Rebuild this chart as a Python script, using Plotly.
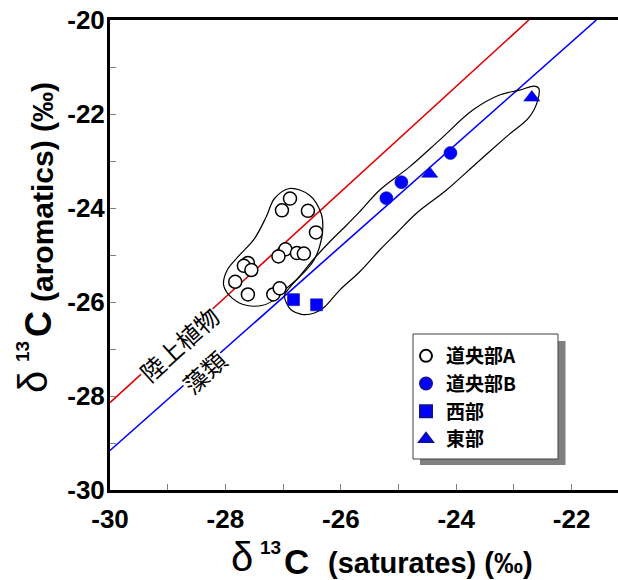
import plotly.graph_objects as go

# ---------------- data ----------------
groupA_x = [-26.88, -27.02, -26.57, -26.43, -26.96, -27.08, -26.76, -26.64, -27.61, -27.68, -27.55, -27.83, -27.61, -27.17, -27.06]
groupA_y = [-23.80, -24.05, -24.06, -24.52, -24.88, -25.03, -24.96, -24.97, -25.17, -25.23, -25.32, -25.57, -25.84, -25.84, -25.71]
groupB_x = [-24.10, -24.95, -25.21]
groupB_y = [-22.83, -23.45, -23.79]
west_x = [-26.82, -26.42]
west_y = [-25.95, -26.06]
east_x = [-22.69, -24.46]
east_y = [-21.65, -23.27]

names = ["道央部A", "道央部B", "西部", "東部"]

# reference lines (end points)
terr_x = [-30.0, -22.74]
terr_y = [-28.14, -20.0]
algae_x = [-30.0, -21.57]
algae_y = [-29.16, -20.0]
line_labels = ["陸上植物", "藻類"]
terr_label_xy = (-28.80, -26.89)
algae_label_xy = (-28.37, -27.48)

# hand-drawn envelopes
envA_x = [-26.889, -26.542, -26.340, -26.312, -26.369, -26.485, -26.716, -26.946, -27.120, -27.352,
          -27.640, -27.872, -28.030, -27.970, -27.756, -27.496, -27.293, -27.149, -26.889]
envA_y = [-23.585, -23.727, -24.117, -24.437, -24.829, -25.148, -25.467, -25.715, -25.928, -26.070,
          -26.070, -25.928, -25.644, -25.325, -25.005, -24.650, -24.190, -23.798, -23.585]
envB_x = [-26.976, -26.941, -26.854, -26.681, -26.456, -26.283, -26.023, -25.676, -25.329, -25.040,
          -24.693, -24.173, -23.653, -23.133, -22.730, -22.586, -22.569, -22.643, -22.903, -23.250,
          -23.712, -24.289, -24.809, -25.329, -25.676, -25.936, -26.166, -26.456, -26.716, -26.924, -26.976]
envB_y = [-25.857, -26.028, -26.177, -26.262, -26.234, -26.106, -25.751, -25.361, -24.899, -24.543,
          -24.117, -23.621, -23.052, -22.486, -22.060, -21.704, -21.455, -21.406, -21.491, -21.597,
          -21.917, -22.556, -23.125, -23.621, -24.083, -24.409, -24.686, -25.069, -25.453, -25.751, -25.857]

x_tick_vals = [-30, -29, -28, -27, -26, -25, -24, -23, -22]
x_tick_text = ["-30", "", "-28", "", "-26", "", "-24", "", "-22"]
y_tick_vals = [-30, -29, -28, -27, -26, -25, -24, -23, -22, -21, -20]
y_tick_text = ["-30", "", "-28", "", "-26", "", "-24", "", "-22", "", "-20"]

# ---------------- figure ----------------
W, H = 618, 580
ML, MR, MT, MB = 110, 0, 20, 90
PW, PH = W - ML - MR, H - MT - MB


def px2paper(px, py):
    return (px - ML) / PW, (H - MB - py) / PH


fig = go.Figure()
BLUE = "#0000FF"
fig.add_trace(go.Scatter(x=terr_x, y=terr_y, mode="lines", line=dict(color="#E00000", width=1.6),
                         showlegend=False, hoverinfo="skip"))
fig.add_trace(go.Scatter(x=algae_x, y=algae_y, mode="lines", line=dict(color=BLUE, width=1.6),
                         showlegend=False, hoverinfo="skip"))
for ex, ey in [(envA_x, envA_y), (envB_x, envB_y)]:
    fig.add_trace(go.Scatter(x=ex, y=ey, mode="lines", line=dict(color="black", width=1.2, shape="spline", smoothing=1.0),
                             showlegend=False, hoverinfo="skip"))

fig.add_trace(go.Scatter(x=groupA_x, y=groupA_y, mode="markers", name=names[0], legendgroup="a",
                         marker=dict(symbol="circle", size=13, color="white", line=dict(color="black", width=1.5))))
fig.add_trace(go.Scatter(x=groupB_x, y=groupB_y, mode="markers", name=names[1], legendgroup="b",
                         marker=dict(symbol="circle", size=13, color=BLUE, line=dict(color="#1010a0", width=0.6))))
fig.add_trace(go.Scatter(x=west_x, y=west_y, mode="markers", name=names[2], legendgroup="c",
                         marker=dict(symbol="square", size=12, color=BLUE, line=dict(color="#1010a0", width=0.6))))
fig.add_trace(go.Scatter(x=east_x, y=east_y, mode="markers", name=names[3], legendgroup="d",
                         marker=dict(symbol="triangle-up", size=14, color=BLUE, line=dict(color="#1010a0", width=0.6))))

TICKFONT = dict(family="Liberation Sans, Arial", size=26, color="black", weight="bold")
fig.update_xaxes(range=[-30, -30 + PW / 57.7], tickmode="array", tickvals=x_tick_vals, ticktext=x_tick_text,
                 ticks="inside", ticklen=6, tickwidth=1, tickcolor="#808080", showline=True, linecolor="black",
                 linewidth=3, mirror=True, showgrid=False, zeroline=False, tickfont=TICKFONT, ticklabelstandoff=4)
fig.update_yaxes(range=[-30, -20], tickmode="array", tickvals=y_tick_vals, ticktext=y_tick_text,
                 ticks="inside", ticklen=6, tickwidth=1, tickcolor="#808080", showline=True, linecolor="black",
                 linewidth=3, mirror=False, showgrid=False, zeroline=False, tickfont=TICKFONT, ticklabelstandoff=-3)

ann = []
# line labels
ann.append(dict(x=terr_label_xy[0], y=terr_label_xy[1], xref="x", yref="y", text=line_labels[0], showarrow=False,
                textangle=-42, font=dict(family="Noto Sans CJK JP", size=24, color="black"), bgcolor="white", borderpad=0))
ann.append(dict(x=algae_label_xy[0], y=algae_label_xy[1], xref="x", yref="y", text=line_labels[1], showarrow=False,
                textangle=-42, font=dict(family="Noto Sans CJK JP", size=24, color="black"), bgcolor="white", borderpad=0))

TF = "Liberation Sans, Arial"
# x-axis title pieces
for txt, cx, cy, size, wt in [("δ", 241.7, 557, 40, "normal"), ("13", 270.5, 547.5, 19, "bold"),
                              ("C", 296.7, 561, 35, "bold"), ("(saturates) (‰)", 430.8, 563, 29, "bold")]:
    xp, yp = px2paper(cx, cy)
    ann.append(dict(x=xp, y=yp, xref="paper", yref="paper", text=txt, showarrow=False, xanchor="center",
                    yanchor="middle", font=dict(family=TF, size=size, color="black", weight=wt)))
# y-axis title pieces
for txt, cx, cy, size, wt in [("δ", 33, 382, 40, "normal"), ("13", 22, 352, 19, "bold"),
                              ("C", 38, 324, 36, "bold"), ("(aromatics) (‰)", 42, 192, 30, "bold")]:
    xp, yp = px2paper(cx, cy)
    ann.append(dict(x=xp, y=yp, xref="paper", yref="paper", text=txt, showarrow=False, xanchor="center",
                    yanchor="middle", textangle=-90, font=dict(family=TF, size=size, color="black", weight=wt)))

# legend box & shadow
bx0, by0 = px2paper(413, 459)
bx1, by1 = px2paper(558, 334)
sx0, sy0 = px2paper(420, 465)
sx1, sy1 = px2paper(565.5, 341)
shapes = [
    dict(type="rect", xref="paper", yref="paper", x0=sx0, y0=sy0, x1=sx1, y1=sy1, fillcolor="#808080",
         line=dict(width=0), layer="above"),
    dict(type="rect", xref="paper", yref="paper", x0=bx0, y0=by0, x1=bx1, y1=by1, fillcolor="white",
         line=dict(color="#404040", width=1), layer="above"),
]

lx, ly = px2paper(406, 337)
fig.update_layout(
    width=W, height=H, margin=dict(l=ML, r=MR, t=MT, b=MB),
    paper_bgcolor="white", plot_bgcolor="white",
    annotations=ann, shapes=shapes,
    legend=dict(x=lx, y=ly, xanchor="left", yanchor="top", bgcolor="rgba(0,0,0,0)", borderwidth=0,
                font=dict(family="Noto Sans CJK JP", size=19, color="black", weight="bold"),
                itemsizing="constant", tracegroupgap=0, itemwidth=30),
    showlegend=True,
)

fig.write_html("out.html", config={"displayModeBar": False},
               post_script="document.body.style.margin='0';")
